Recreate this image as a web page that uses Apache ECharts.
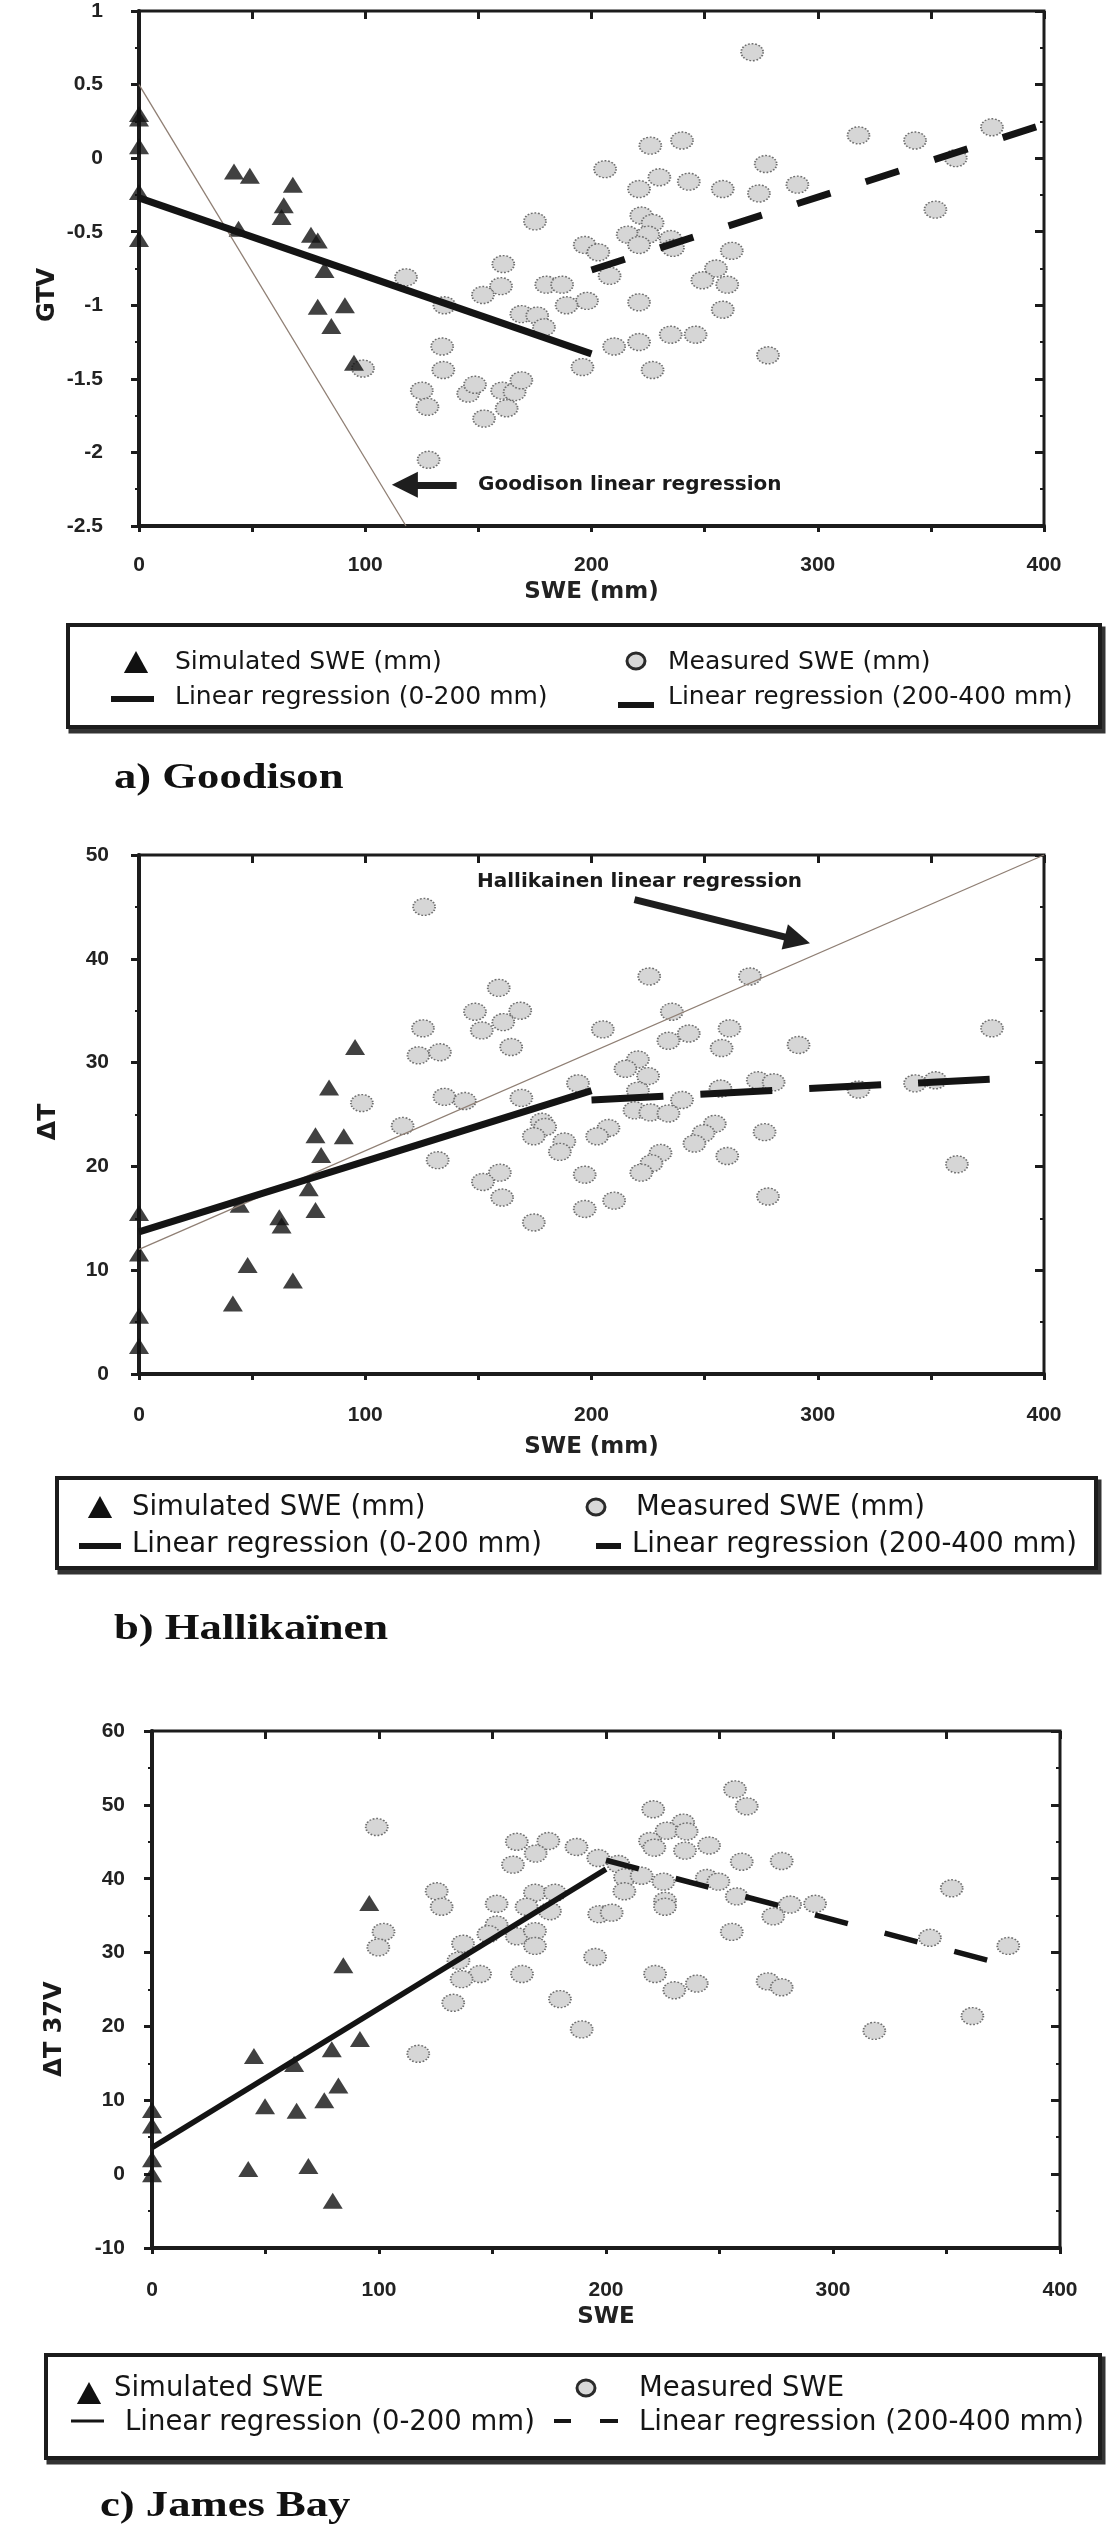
<!DOCTYPE html>
<html><head><meta charset="utf-8">
<script src="https://cdn.jsdelivr.net/npm/echarts@6/dist/echarts.min.js"></script>
<style>html,body{margin:0;padding:0;background:#fff}#c{width:1120px;height:2538px}</style>
</head><body><div id="c"></div>
<script>
// ---------- tick labels ----------
const xTickLabels = [0, 100, 200, 300, 400];

// ---------- a) Goodison ----------
const goodSim = [[0,0.30],[0,0.27],[0,0.08],[0,-0.23],[0,-0.55],
 [42,-0.09],[49,-0.12],[44,-0.48],[68,-0.18],[64,-0.32],[63,-0.40],[76,-0.52],[79,-0.56],
 [82,-0.76],[79,-1.01],[91,-1.00],[85,-1.14],[95,-1.39]];
const goodMeas = [[271,0.72],[318,0.155],[343,0.12],[377,0.21],[361,0.0],[352,-0.35],[291,-0.18],
 [277,-0.04],[274,-0.24],[258,-0.21],[262,-0.63],[255,-0.75],[249,-0.83],[260,-0.86],[258,-1.03],
 [278,-1.34],[240,0.12],[226,0.085],[206,-0.075],[230,-0.13],[243,-0.16],[221,-0.21],[222,-0.39],
 [227,-0.44],[216,-0.52],[225,-0.52],[221,-0.59],[235,-0.55],[236,-0.61],[197,-0.59],[203,-0.64],
 [208,-0.80],[221,-0.98],[210,-1.28],[221,-1.25],[235,-1.20],[246,-1.20],[227,-1.44],[196,-1.42],
 [198,-0.97],[175,-0.43],[161,-0.72],[118,-0.81],[180,-0.86],[187,-0.86],[160,-0.87],[152,-0.93],
 [135,-1.0],[169,-1.06],[176,-1.07],[179,-1.15],[189,-1.0],[99,-1.43],[134,-1.28],[134.5,-1.44],
 [125,-1.58],[127.5,-1.69],[145.5,-1.60],[148.5,-1.54],[152.5,-1.77],[160.5,-1.58],[166,-1.59],
 [169,-1.51],[162.5,-1.70],[128,-2.05]];
const goodReg1 = [[0,-0.27],[200,-1.33]];
const goodReg2 = [[200,-0.76],[400,0.23]];
const goodisonLine = [[0,0.5],[118,-2.5]];
const goodArrow = [[140.4,-2.22],[117.5,-2.22]];

// ---------- b) Hallikainen ----------
const halSim = [[0,15.5],[0,11.6],[0,5.6],[0,2.7],
 [95.5,31.5],[84,27.6],[78,23.0],[90.5,22.9],[80.5,21.1],[75,17.9],[78,15.8],[44.5,16.3],
 [62,15.1],[63,14.3],[48,10.5],[68,9.0],[41.5,6.8]];
const halMeas = [[126,45.0],[159,37.2],[148.5,34.9],[168.5,35.0],[161,33.9],[151.5,33.1],[125.5,33.3],
 [164.5,31.5],[123.5,30.7],[133,31.0],[98.5,26.1],[135,26.7],[144,26.3],[169,26.6],[194,28.0],
 [116.5,23.9],[178,24.3],[179.5,23.8],[174.5,22.9],[188,22.4],[186,21.4],[132,20.6],[159.5,19.4],
 [152,18.5],[160.5,17.0],[174.5,14.6],[197,19.2],[197,15.9],[225.5,38.3],[270,38.3],[235.5,34.9],
 [205,33.2],[261,33.3],[377,33.3],[243,32.8],[234,32.1],[257.5,31.4],[291.5,31.7],[220.5,30.3],
 [215,29.4],[225,28.7],[273.5,28.3],[280.5,28.1],[257,27.5],[318,27.4],[343,28.0],[352,28.3],
 [220.5,27.3],[240,26.4],[219,25.4],[226,25.2],[234,25.1],[207.5,23.7],[202.5,22.9],[254.5,24.1],
 [249.5,23.2],[245.5,22.2],[276.5,23.3],[230.5,21.3],[226.5,20.3],[222,19.4],[260,21.0],
 [361.5,20.2],[210,16.7],[278,17.1]];
const halReg1 = [[0,13.7],[200,27.3]];
const halReg2 = [[200,26.4],[376,28.4]];
const hallikainenLine = [[0,12],[400,50]];
const halArrow = [[219,45.7],[291,41.8]];

// ---------- c) James Bay ----------
const jbSim = [[0,8.7],[0,6.6],[0,2.0],[0,0.0],
 [95.7,36.7],[84.3,28.3],[91.6,18.3],[44.9,16.0],[79.2,16.9],[62.6,14.9],[82.1,12.0],[75.9,10.0],
 [49.8,9.2],[63.7,8.6],[42.4,0.7],[68.9,1.1],[79.6,-3.6]];
const jbMeas = [[99,47.0],[160.7,45.0],[174.6,45.1],[187,44.3],[169,43.4],[159,41.9],[196.6,42.8],
 [125.4,38.3],[127.6,36.2],[102,32.8],[99.7,30.7],[151.8,36.6],[168.7,38.1],[177.5,38.1],[165,36.2],
 [175.3,35.6],[151.8,33.8],[148.2,32.5],[160.7,32.2],[168.7,32.9],[168.7,30.9],[137,31.2],[135,28.9],
 [144.5,27.1],[136.4,26.4],[163,27.1],[132.7,23.2],[179.7,23.7],[189.3,19.6],[117.3,16.3],[197,35.2],
 [195.2,29.4],[256.8,52.1],[262,49.8],[220.8,49.4],[234,47.6],[226.7,46.5],[235.5,46.4],[219.4,45.1],
 [221.3,44.2],[234.8,43.8],[245.4,44.5],[259.8,42.3],[277.4,42.4],[205.4,42.0],[208.4,40.2],
 [215.7,40.4],[225.3,39.6],[244.4,40.1],[249.5,39.6],[208.1,38.3],[226,37.0],[226,36.2],[257.6,37.6],
 [281.1,36.5],[273.7,34.9],[292.1,36.6],[202.5,35.4],[255.4,32.8],[352.3,38.7],[342.7,32.0],
 [377.2,30.9],[221.6,27.1],[230.1,24.9],[240,25.8],[271.2,26.1],[277.4,25.3],[318.2,19.4],[361.4,21.4]];
const jbReg1 = [[0,3.6],[200,41.3]];
const jbReg2 = [[200,42.5],[369,28.9]];

// ---------- styling / layout ----------
const INK = '#1c1c1c';
const SANS = '"DejaVu Sans", sans-serif';
const panels = [
  {grid:{left:139, top:11, width:905, height:515}, yMin:-2.5, yMax:1, yInt:0.5,
   sim:goodSim, meas:goodMeas, reg1:goodReg1, reg2:goodReg2, regW:7, dash:[35,37],
   ref:goodisonLine, arrow:goodArrow, yMargin:36, xMargin:29, xName:'SWE (mm)', xNameGap:55},
  {grid:{left:139, top:855, width:905, height:519}, yMin:0, yMax:50, yInt:10,
   sim:halSim, meas:halMeas, reg1:halReg1, reg2:halReg2, regW:7, dash:[72,37],
   ref:hallikainenLine, arrow:halArrow, yMargin:30, xMargin:31, xName:'SWE (mm)', xNameGap:62},
  {grid:{left:152, top:1731, width:908, height:517}, yMin:-10, yMax:60, yInt:10,
   sim:jbSim, meas:jbMeas, reg1:jbReg1, reg2:jbReg2, regW:5.5, dash:[34,38],
   ref:null, arrow:null, yMargin:27, xMargin:32, xName:'SWE', xNameGap:58}
];

const grids = [], xAxes = [], yAxes = [], series = [];
panels.forEach((p, i) => {
  grids.push(Object.assign({show:true, borderColor:INK, borderWidth:3, containLabel:false}, p.grid));
  const lab = {fontFamily:'"Liberation Sans", Arial, sans-serif', fontWeight:'bold', fontSize:21, color:'#222'};
  xAxes.push({gridIndex:i, type:'value', min:0, max:400, interval:50,
    axisLine:{show:true, onZero:false, lineStyle:{color:INK, width:4}},
    axisTick:{show:true, length:6, lineStyle:{color:INK, width:3}},
    axisLabel:Object.assign({margin:p.xMargin, formatter:v => xTickLabels.includes(v) ? String(v) : ''}, lab),
    splitLine:{show:false},
    name:p.xName, nameLocation:'middle', nameGap:p.xNameGap,
    nameTextStyle:{fontFamily:SANS, fontWeight:'bold', fontSize:23, color:'#222'}});
  xAxes.push({gridIndex:i, type:'value', min:0, max:400, interval:50,
    axisLine:{show:false, onZero:false}, axisLabel:{show:false}, splitLine:{show:false},
    axisTick:{show:true, inside:true, length:8, lineStyle:{color:INK, width:3}}});
  yAxes.push({gridIndex:i, type:'value', min:p.yMin, max:p.yMax, interval:p.yInt,
    axisLine:{show:true, onZero:false, lineStyle:{color:INK, width:4}},
    axisTick:{show:true, length:8, lineStyle:{color:INK, width:3}},
    minorTick:{show:true, splitNumber:2, length:4, lineStyle:{color:INK, width:2}},
    axisLabel:Object.assign({margin:p.yMargin}, lab),
    splitLine:{show:false}});
  yAxes.push({gridIndex:i, type:'value', min:p.yMin, max:p.yMax, interval:p.yInt,
    axisLine:{show:false, onZero:false}, axisLabel:{show:false}, splitLine:{show:false},
    axisTick:{show:true, inside:true, length:9, lineStyle:{color:INK, width:3}},
    minorTick:{show:true, splitNumber:2, length:4, lineStyle:{color:INK, width:2}}});
  const xi = i*2, yi = i*2;
  series.push({type:'scatter', name: i===2 ? 'Measured SWE' : 'Measured SWE (mm)', xAxisIndex:xi, yAxisIndex:yi,
    data:p.meas, symbol:'circle', symbolSize:[22,17], z:2,
    itemStyle:{color:'#d6d6d6', borderColor:'#6e6e6e', borderWidth:1.6, borderType:'dotted', opacity:1}});
  series.push({type:'scatter', name: i===2 ? 'Simulated SWE' : 'Simulated SWE (mm)', xAxisIndex:xi, yAxisIndex:yi,
    data:p.sim, symbol:'triangle', symbolSize:[20,16], z:3,
    itemStyle:{color:'#111'}});
  if (p.ref) {
    series.push({type:'line', name:'reference', xAxisIndex:xi, yAxisIndex:yi, data:p.ref,
      symbol:'none', z:4, lineStyle:{color:'#8f7f74', width:1.3},
      markLine:{silent:true, symbol:['none','triangle'], symbolSize:[26,26],
        lineStyle:{color:'#1e1e1e', width:7, type:'solid'}, label:{show:false},
        emphasis:{disabled:true},
        data:[[{coord:p.arrow[0]},{coord:p.arrow[1]}]]}});
  }
  series.push({type:'line', name:'Linear regression (0-200 mm)', xAxisIndex:xi, yAxisIndex:yi, data:p.reg1,
    symbol:'none', z:5, lineStyle:{color:'#141414', width:p.regW, cap:'butt'}});
  series.push({type:'line', name:'Linear regression (200-400 mm)', xAxisIndex:xi, yAxisIndex:yi, data:p.reg2,
    symbol:'none', z:5, lineStyle:{color:'#141414', width:p.regW, type:p.dash, cap:'butt'}});
});

// ---------- legend boxes, captions, titles (decoration) ----------
const G = [];
function box(x, y, w, h) {
  G.push({type:'rect', shape:{x:x+3, y:y+4, width:w, height:h}, style:{fill:'none', stroke:'#333', lineWidth:5}, z:10});
  G.push({type:'rect', shape:{x:x, y:y, width:w, height:h}, style:{fill:'#fff', stroke:INK, lineWidth:4}, z:11});
}
function tri(cx, cy, s) {
  G.push({type:'polygon', shape:{points:[[cx-s*0.55,cy+s*0.45],[cx+s*0.55,cy+s*0.45],[cx,cy-s*0.55]]}, style:{fill:'#111'}, z:12});
}
function ring(cx, cy) {
  G.push({type:'ellipse', shape:{cx:cx, cy:cy, rx:9, ry:8}, style:{fill:'#d8d8d8', stroke:'#2a2a2a', lineWidth:3}, z:12});
}
function bar(x1, x2, y, w) {
  G.push({type:'line', shape:{x1:x1, y1:y, x2:x2, y2:y}, style:{stroke:'#151515', lineWidth:w}, z:12});
}
function txt(x, y, s, size, extra) {
  G.push(Object.assign({type:'text', x:x, y:y, z:12,
    style:{text:s, fill:'#151515', font:'normal ' + size + 'px ' + SANS, verticalAlign:'middle', align:'left'}}, extra||{}));
}
// legend a
box(68, 625, 1032, 102);
tri(136, 663, 22); txt(175, 662, 'Simulated SWE (mm)', 25);
ring(636, 661); txt(668, 662, 'Measured SWE (mm)', 25);
bar(111, 154, 699, 6); txt(175, 697, 'Linear regression (0-200 mm)', 25);
bar(618, 654, 705, 6); txt(668, 697, 'Linear regression (200-400 mm)', 25);
// legend b
box(57, 1478, 1039, 90);
tri(100, 1508, 22); txt(132, 1508, 'Simulated SWE (mm)', 27.5);
ring(596, 1507); txt(636, 1508, 'Measured SWE (mm)', 27.5);
bar(79, 121, 1546, 6); txt(132, 1545, 'Linear regression (0-200 mm)', 27.5);
bar(596, 621, 1546, 6); txt(632, 1545, 'Linear regression (200-400 mm)', 27.5);
// legend c
box(46, 2355, 1054, 103);
tri(89, 2394, 22); txt(114, 2389, 'Simulated SWE', 27.5);
ring(586, 2388); txt(639, 2389, 'Measured SWE', 27.5);
bar(71, 104, 2421, 3); txt(125, 2423, 'Linear regression (0-200 mm)', 27.5);
bar(554, 571, 2421, 4); bar(600, 618, 2421, 4); txt(639, 2423, 'Linear regression (200-400 mm)', 27.5);

// captions
const capFont = 'bold 36px "Liberation Serif", "Times New Roman", serif';
[['a) Goodison',114,779],['b) Hallikaïnen',114,1630],['c) James Bay',100,2507]].forEach(c => {
  G.push({type:'text', x:c[1], y:c[2], scaleX:1.24, z:12,
    style:{text:c[0], font:capFont, fill:'#111', verticalAlign:'middle', align:'left'}});
});
// y-axis titles
[['GTV',48,295,24],['ΔT',48,1122,25],['ΔT 37V',55,2029,24]].forEach(c => {
  G.push({type:'text', x:c[1], y:c[2], rotation:Math.PI/2, z:12,
    style:{text:c[0], font:'bold ' + c[3] + 'px ' + SANS, fill:'#1a1a1a', verticalAlign:'middle', align:'center'}});
});
// annotation texts
txt(478, 485, 'Goodison linear regression', 20, {style:{text:'Goodison linear regression', fill:'#1a1a1a', font:'bold 20px ' + SANS, verticalAlign:'middle'}});
txt(477, 882, 'Hallikainen linear regression', 20, {style:{text:'Hallikainen linear regression', fill:'#1a1a1a', font:'bold 20px ' + SANS, verticalAlign:'middle'}});

const chart = echarts.init(document.getElementById('c'), null, {renderer:'canvas'});
chart.setOption({
  animation:false,
  backgroundColor:'#ffffff',
  grid:grids, xAxis:xAxes, yAxis:yAxes, series:series,
  graphic:{elements:G}
});
</script>
</body></html>
